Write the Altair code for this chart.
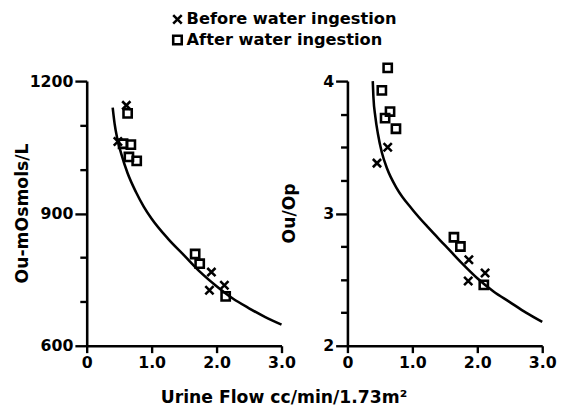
import altair as alt
import pandas as pd

FONT = "DejaVu Sans"

# Axis ticks
x_ticks = [0, 1, 2, 3]
left_y_ticks = [600, 700, 800, 900, 1000, 1100, 1200]
right_y_ticks = [2, 2.25, 2.5, 2.75, 3, 3.25, 3.5, 3.75, 4]

# Fitted curves
left_curve_x = [0.40, 0.43, 0.47, 0.53, 0.63, 0.76, 0.88, 1.0, 1.25, 1.5, 1.75, 2.0, 2.25, 2.5, 2.75, 3.0]
left_curve_y = [1140, 1103, 1070, 1036, 991, 948, 915, 888, 843, 805, 767, 735, 707, 685, 665, 648]
right_curve_x = [0.39, 0.40, 0.43, 0.47, 0.53, 0.61, 0.76, 1.0, 1.25, 1.5, 1.75, 2.0, 2.25, 2.5, 2.75, 3.0]
right_curve_y = [4.00, 3.88, 3.73, 3.60, 3.46, 3.34, 3.19, 3.03, 2.89, 2.76, 2.63, 2.51, 2.41, 2.33, 2.25, 2.18]

# Observations
left_before_x = [0.61, 0.48, 1.92, 1.89, 2.12]
left_before_y = [1145, 1063, 767, 726, 737]
left_after_x = [0.63, 0.56, 0.68, 0.65, 0.77, 1.67, 1.74, 2.14]
left_after_y = [1127, 1058, 1056, 1028, 1019, 808, 786, 712]
right_before_x = [0.455, 0.62, 1.87, 1.86, 2.12]
right_before_y = [3.38, 3.50, 2.65, 2.49, 2.55]
right_after_x = [0.62, 0.53, 0.656, 0.58, 0.747, 1.64, 1.74, 2.10]
right_after_y = [4.10, 3.93, 3.77, 3.72, 3.64, 2.82, 2.75, 2.46]

groups = ["Before water ingestion", "After water ingestion"]


def points_df(bx, by, ax, ay):
    return pd.DataFrame({
        "x": bx + ax,
        "y": by + ay,
        "group": [groups[0]] * len(bx) + [groups[1]] * len(ax),
    })


left_pts = points_df(left_before_x, left_before_y, left_after_x, left_after_y)
right_pts = points_df(right_before_x, right_before_y, right_after_x, right_after_y)
left_curve = pd.DataFrame({"x": left_curve_x, "y": left_curve_y})
right_curve = pd.DataFrame({"x": right_curve_x, "y": right_curve_y})

shape_scale = alt.Scale(domain=groups, range=["M-1,-1L1,1M-1,1L1,-1", "square"])

x_label_expr = "datum.value == 0 ? '0' : format(datum.value, '.1f')"


def panel(curve_df, pts_df, ydomain, yvalues, major_test, ylabel_expr, ytitle, ytitle_x, xtitle, with_legend):
    x_axis_kw = dict(values=x_ticks, labelExpr=x_label_expr, tickSize=7, labelFlush=False)
    if xtitle:
        x_axis_kw.update(title=xtitle, titleX=200, titleY=58, titleAlign="center",
                         titleBaseline="alphabetic", titleAnchor="middle")
    else:
        x_axis_kw.update(title=None)
    x_enc = alt.X("x:Q", scale=alt.Scale(domain=[0, 3], nice=False, zero=False),
                  axis=alt.Axis(**x_axis_kw))
    y_enc = alt.Y("y:Q", scale=alt.Scale(domain=ydomain, nice=False, zero=False),
                  axis=alt.Axis(values=yvalues, labelExpr=ylabel_expr, labelFlush=False,
                                tickSize=alt.condition(major_test, alt.value(12), alt.value(7)),
                                title=ytitle, titleX=ytitle_x, titleY=134,
                                titleAngle=-90, titleAlign="center",
                                titleBaseline="alphabetic"))
    line = alt.Chart(curve_df).mark_line(
        color="black", strokeWidth=2.6, interpolate="monotone"
    ).encode(x=x_enc, y=y_enc)
    legend = None
    if with_legend:
        legend = alt.Legend(orient="none", legendX=84, legendY=-71, title=None,
                            labelFont=FONT, labelFontWeight="bold", labelFontSize=16.5,
                            labelColor="black", labelLimit=400, symbolStrokeColor="black",
                            symbolFillColor="transparent", symbolStrokeWidth=2.6,
                            symbolSize=75, labelOffset=1, rowPadding=1)
    pts = alt.Chart(pts_df).mark_point(
        filled=False, color="black", strokeWidth=2.6, size=70, opacity=1
    ).encode(
        x=x_enc, y=y_enc,
        shape=alt.Shape("group:N", scale=shape_scale, legend=legend),
    )
    return alt.layer(line, pts).properties(width=198, height=269)


left = panel(left_curve, left_pts, [600, 1200], left_y_ticks,
             "datum.value % 300 == 0",
             "datum.value % 300 == 0 ? format(datum.value, 'd') : ''",
             "Ou-mOsmols/L", -60, "Urine Flow cc/min/1.73m²", True)
right = panel(right_curve, right_pts, [2, 4], right_y_ticks,
              "datum.value % 1 == 0",
              "datum.value % 1 == 0 ? format(datum.value, 'd') : ''",
              "Ou/Op", -54, None, False)

chart = alt.hconcat(left, right, spacing=67, bounds="flush").properties(
    padding={"left": 5, "top": 0, "right": 0, "bottom": 0},
    background="white",
).configure_view(stroke=None).configure_axis(
    domainColor="black", domainWidth=2.6, tickColor="black", tickWidth=2.4,
    labelFont=FONT, labelFontWeight="bold", labelFontSize=16, labelColor="black",
    labelPadding=2, titleFont=FONT, titleFontWeight="bold", titleFontSize=17.5,
    titleColor="black", grid=False,
)

chart.save("out.html", embed_options={"renderer": "svg", "actions": False})
